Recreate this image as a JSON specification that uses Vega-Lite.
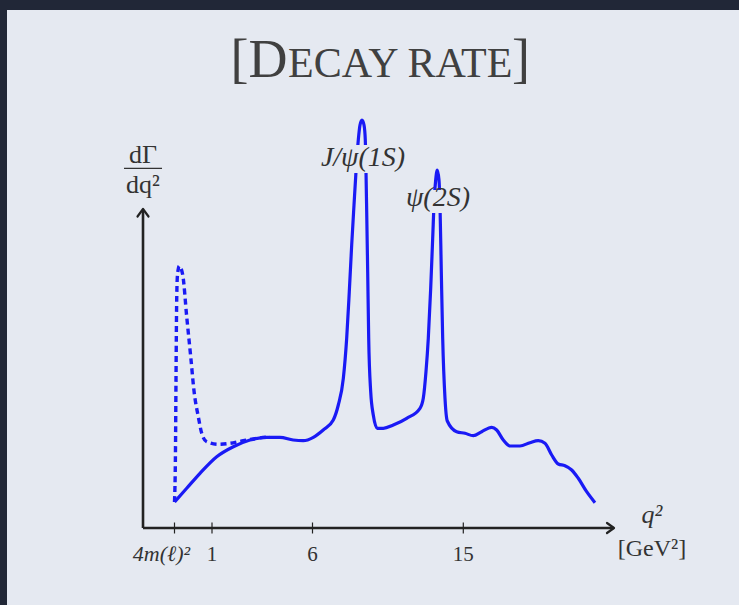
{
  "$schema": "https://vega.github.io/schema/vega-lite/v6.json",
  "width": 732,
  "height": 595,
  "autosize": "none",
  "padding": {"left": 7, "top": 10, "right": 0, "bottom": 0},
  "background": "#212737",
  "config": {"view": {"stroke": null, "fill": "#e5e9f1"}},
  "datasets": {
    "solid": [
      {"q2": 0.045, "rate": 0.26}, {"q2": 0.356, "rate": 0.397}, {"q2": 0.694, "rate": 0.547},
      {"q2": 1.234, "rate": 0.713}, {"q2": 2.06, "rate": 0.813}, {"q2": 2.89, "rate": 0.88},
      {"q2": 3.72, "rate": 0.907}, {"q2": 4.38, "rate": 0.907}, {"q2": 5.04, "rate": 0.88},
      {"q2": 5.54, "rate": 0.873}, {"q2": 6.05, "rate": 0.907}, {"q2": 6.64, "rate": 0.98},
      {"q2": 7.24, "rate": 1.08}, {"q2": 7.54, "rate": 1.23}, {"q2": 7.84, "rate": 1.497},
      {"q2": 8.04, "rate": 1.897}, {"q2": 8.196, "rate": 2.363}, {"q2": 8.339, "rate": 2.83},
      {"q2": 8.477, "rate": 3.23}, {"q2": 8.596, "rate": 3.563}, {"q2": 8.733, "rate": 3.88},
      {"q2": 8.835, "rate": 4.03}, {"q2": 8.954, "rate": 4.08}, {"q2": 9.074, "rate": 4.03},
      {"q2": 9.151, "rate": 3.88}, {"q2": 9.193, "rate": 3.563}, {"q2": 9.235, "rate": 3.163},
      {"q2": 9.294, "rate": 2.563}, {"q2": 9.354, "rate": 1.897}, {"q2": 9.473, "rate": 1.363},
      {"q2": 9.628, "rate": 1.13}, {"q2": 9.867, "rate": 0.997}, {"q2": 10.225, "rate": 0.997},
      {"q2": 10.822, "rate": 1.03}, {"q2": 11.622, "rate": 1.097}, {"q2": 12.415, "rate": 1.197},
      {"q2": 12.612, "rate": 1.297}, {"q2": 12.773, "rate": 1.563}, {"q2": 12.911, "rate": 1.897},
      {"q2": 13.054, "rate": 2.397}, {"q2": 13.173, "rate": 2.897}, {"q2": 13.269, "rate": 3.297},
      {"q2": 13.352, "rate": 3.48}, {"q2": 13.448, "rate": 3.58}, {"q2": 13.549, "rate": 3.48},
      {"q2": 13.609, "rate": 3.23}, {"q2": 13.687, "rate": 2.563}, {"q2": 13.77, "rate": 1.897},
      {"q2": 13.908, "rate": 1.297}, {"q2": 14.045, "rate": 1.07}, {"q2": 14.606, "rate": 0.963},
      {"q2": 15.101, "rate": 0.947}, {"q2": 15.596, "rate": 0.923}, {"q2": 16.097, "rate": 0.963},
      {"q2": 16.694, "rate": 1.007}, {"q2": 16.992, "rate": 0.98}, {"q2": 17.386, "rate": 0.88},
      {"q2": 17.786, "rate": 0.82}, {"q2": 18.383, "rate": 0.82}, {"q2": 18.979, "rate": 0.853},
      {"q2": 19.475, "rate": 0.873}, {"q2": 19.875, "rate": 0.847}, {"q2": 20.275, "rate": 0.73},
      {"q2": 20.668, "rate": 0.64}, {"q2": 21.068, "rate": 0.623}, {"q2": 21.468, "rate": 0.58},
      {"q2": 21.862, "rate": 0.497}, {"q2": 22.363, "rate": 0.363}, {"q2": 22.858, "rate": 0.253}
    ],
    "dotted": [
      {"q2": 0.045, "rate": 0.26}, {"q2": 0.07, "rate": 0.78}, {"q2": 0.083, "rate": 1.48},
      {"q2": 0.101, "rate": 2.28}, {"q2": 0.121, "rate": 2.53}, {"q2": 0.167, "rate": 2.62},
      {"q2": 0.255, "rate": 2.53}, {"q2": 0.356, "rate": 2.113}, {"q2": 0.458, "rate": 1.713},
      {"q2": 0.549, "rate": 1.347}, {"q2": 0.651, "rate": 1.113}, {"q2": 0.738, "rate": 0.947},
      {"q2": 0.865, "rate": 0.863}, {"q2": 1.313, "rate": 0.837}, {"q2": 1.896, "rate": 0.847},
      {"q2": 2.557, "rate": 0.873}, {"q2": 3.224, "rate": 0.897}, {"q2": 3.886, "rate": 0.913}
    ],
    "lines": [
      {"part": "x axis", "q2": -0.757, "rate": 0, "q2_end": 23.96, "rate_end": 0},
      {"part": "y axis", "q2": -0.757, "rate": 0, "q2_end": -0.757, "rate_end": 3.18},
      {"part": "fraction bar", "q2": -1.241, "rate": 3.597, "q2_end": -0.273, "rate_end": 3.597}
    ],
    "arrows": [
      {"arrow": "x", "step": 0, "q2": 23.576, "rate": 0.05},
      {"arrow": "x", "step": 1, "q2": 23.994, "rate": 0},
      {"arrow": "x", "step": 2, "q2": 23.576, "rate": -0.05},
      {"arrow": "y", "step": 0, "q2": -0.897, "rate": 3.115},
      {"arrow": "y", "step": 1, "q2": -0.757, "rate": 3.19},
      {"arrow": "y", "step": 2, "q2": -0.617, "rate": 3.115}
    ],
    "ticks": [
      {"q2": 0.045, "rate": 0, "label": "4m(ℓ)²"},
      {"q2": 1, "rate": 0, "label": "1"},
      {"q2": 6, "rate": 0, "label": "6"},
      {"q2": 15, "rate": 0, "label": "15"}
    ],
    "boxes": [
      {"q2": 6.21, "q2_end": 11.82, "rate": 3.83, "rate_end": 3.55},
      {"q2": 11.46, "q2_end": 15.52, "rate": 3.38, "rate_end": 3.15}
    ],
    "peaks": [
      {"q2": 9.014, "rate": 3.62, "label": "J/ψ(1S)"},
      {"q2": 13.49, "rate": 3.22, "label": "ψ(2S)"}
    ]
  },
  "encoding": {
    "x": {
      "field": "q2",
      "type": "quantitative",
      "scale": {"domain": [0.045, 1, 6, 15], "range": [167.5, 205, 305.5, 456.3], "nice": false, "zero": false},
      "axis": null
    },
    "y": {
      "field": "rate",
      "type": "quantitative",
      "scale": {"domain": [-0.77, 5.18], "nice": false, "zero": false},
      "axis": null
    }
  },
  "layer": [
    {
      "data": {"name": "lines"},
      "transform": [{"filter": "datum.part !== 'fraction bar'"}],
      "mark": {"type": "rule", "color": "#222222", "strokeWidth": 2.6},
      "encoding": {
        "x2": {"field": "q2_end"},
        "y2": {"field": "rate_end"}
      }
    },
    {
      "data": {"name": "lines"},
      "transform": [{"filter": "datum.part === 'fraction bar'"}],
      "mark": {"type": "rule", "color": "#333333", "strokeWidth": 1.2},
      "encoding": {
        "x2": {"field": "q2_end"},
        "y2": {"field": "rate_end"}
      }
    },
    {
      "data": {"name": "arrows"},
      "mark": {"type": "line", "color": "#222222", "strokeWidth": 2.2, "strokeCap": "round", "strokeJoin": "round"},
      "encoding": {
        "detail": {"field": "arrow"},
        "order": {"field": "step"}
      }
    },
    {
      "data": {"name": "ticks"},
      "mark": {"type": "tick", "orient": "vertical", "color": "#222222", "size": 11, "thickness": 1.2, "opacity": 1}
    },
    {
      "data": {"name": "ticks"},
      "transform": [{"filter": "datum.q2 >= 1"}],
      "mark": {"type": "text", "font": "Liberation Serif", "fontSize": 21, "color": "#333333", "align": "center", "baseline": "alphabetic", "dy": 33},
      "encoding": {"text": {"field": "label"}}
    },
    {
      "data": {"name": "ticks"},
      "transform": [{"filter": "datum.q2 < 1"}],
      "mark": {"type": "text", "font": "Liberation Serif", "fontSize": 22, "fontStyle": "italic", "color": "#333333", "align": "center", "baseline": "alphabetic", "dx": -13, "dy": 33},
      "encoding": {"text": {"field": "label"}}
    },
    {
      "data": {"name": "dotted"},
      "mark": {"type": "line", "color": "#1a1af5", "strokeWidth": 3.4, "strokeDash": [6, 4], "interpolate": "monotone"}
    },
    {
      "data": {"name": "solid"},
      "mark": {"type": "line", "color": "#1a1af5", "strokeWidth": 3.2, "interpolate": "monotone", "strokeJoin": "round"}
    },
    {
      "data": {"name": "boxes"},
      "mark": {"type": "rect", "color": "#e5e9f1"},
      "encoding": {
        "x2": {"field": "q2_end"},
        "y2": {"field": "rate_end"}
      }
    },
    {
      "data": {"name": "peaks"},
      "mark": {"type": "text", "font": "Liberation Serif", "fontSize": 28, "fontStyle": "italic", "color": "#333333", "align": "center", "baseline": "alphabetic"},
      "encoding": {"text": {"field": "label"}}
    },
    {
      "data": {"values": [
        {"q2": -0.757, "rate": 3.647, "label": "dΓ"},
        {"q2": -0.757, "rate": 3.353, "label": "dq²"}
      ]},
      "mark": {"type": "text", "font": "Liberation Serif", "fontSize": 26, "color": "#333333", "align": "center", "baseline": "alphabetic"},
      "encoding": {"text": {"field": "label"}}
    },
    {
      "data": {"values": [{"q2": 26.26, "rate": 0.05, "label": "q²"}]},
      "mark": {"type": "text", "font": "Liberation Serif", "fontSize": 26, "fontStyle": "italic", "color": "#333333", "align": "center", "baseline": "alphabetic"},
      "encoding": {"text": {"field": "label"}}
    },
    {
      "data": {"values": [{"q2": 26.26, "rate": -0.28, "label": "[GeV²]"}]},
      "mark": {"type": "text", "font": "Liberation Serif", "fontSize": 24, "color": "#333333", "align": "center", "baseline": "alphabetic"},
      "encoding": {"text": {"field": "label"}}
    },
    {
      "data": {"values": [{"q2": 4.756, "rate": 4.51, "label": "[D"}]},
      "mark": {"type": "text", "font": "Liberation Serif", "fontSize": 54, "color": "#404040", "align": "right", "baseline": "alphabetic"},
      "encoding": {"text": {"field": "label"}}
    },
    {
      "data": {"values": [{"q2": 4.781, "rate": 4.51, "label": "ECAY RATE"}]},
      "mark": {"type": "text", "font": "Liberation Serif", "fontSize": 42, "color": "#404040", "align": "left", "baseline": "alphabetic"},
      "encoding": {"text": {"field": "label"}}
    },
    {
      "data": {"values": [{"q2": 17.906, "rate": 4.51, "label": "]"}]},
      "mark": {"type": "text", "font": "Liberation Serif", "fontSize": 54, "color": "#404040", "align": "left", "baseline": "alphabetic"},
      "encoding": {"text": {"field": "label"}}
    }
  ]
}
